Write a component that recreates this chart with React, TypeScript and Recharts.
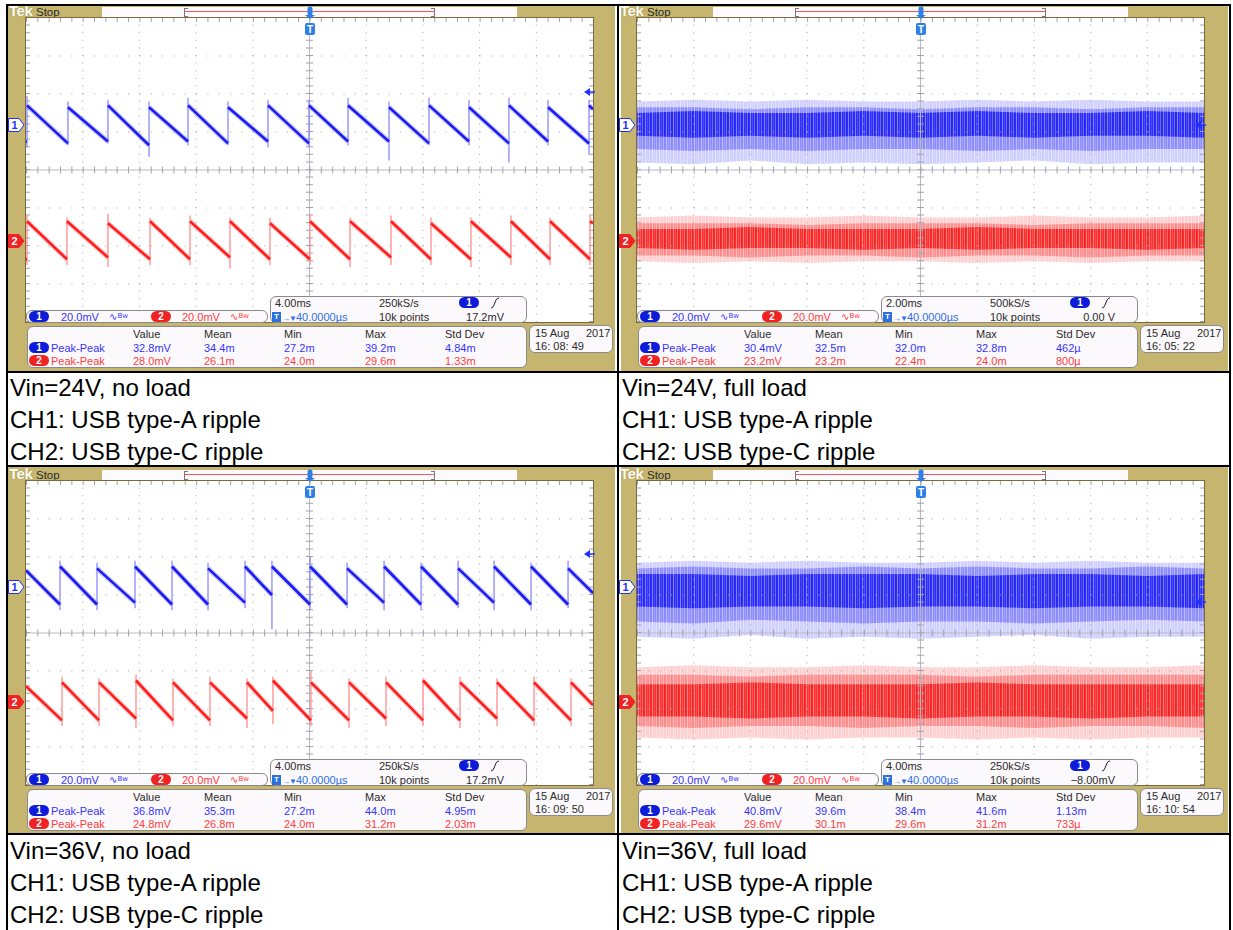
import React from "react";
import { ComposedChart, Line, Area, XAxis, YAxis, ReferenceLine } from "recharts";

// ---------------- captions ----------------
const captionTitles = ["Vin=24V, no load", "Vin=24V, full load", "Vin=36V, no load", "Vin=36V, full load"];
const captionCh1 = "CH1: USB type-A ripple";
const captionCh2 = "CH2: USB type-C ripple";

// ---------------- scope settings / readouts ----------------
const chScaleText = "20.0mV";
const timeDivText = ["4.00ms", "2.00ms", "4.00ms", "4.00ms"];
const timeSpan = [40, 20, 40, 40]; // ms over 10 divisions
const sampleRates = ["250kS/s", "500kS/s", "250kS/s", "250kS/s"];
const recordText = "10k points";
const trigDelayText = "40.0000µs";
const trigLevelText = ["17.2mV", "0.00 V", "17.2mV", "\u22128.00mV"];
const trigLevel = [17.2, 0, 17.2, -8];
const ch1Ground = [23.7, 23.7, 24.2, 24.2];
const ch2Ground = [-37.4, -37.4, -36.3, -36.3];
const statHeads = ["Value", "Mean", "Min", "Max", "Std Dev"];
const measLabel = "Peak-Peak";
const ch1Stats = [
  ["32.8mV", "34.4m", "27.2m", "39.2m", "4.84m"],
  ["30.4mV", "32.5m", "32.0m", "32.8m", "462µ"],
  ["36.8mV", "35.3m", "27.2m", "44.0m", "4.95m"],
  ["40.8mV", "39.6m", "38.4m", "41.6m", "1.13m"],
];
const ch2Stats = [
  ["28.0mV", "26.1m", "24.0m", "29.6m", "1.33m"],
  ["23.2mV", "23.2m", "22.4m", "24.0m", "800µ"],
  ["24.8mV", "26.8m", "24.0m", "31.2m", "2.03m"],
  ["29.6mV", "30.1m", "29.6m", "31.2m", "733µ"],
];
const dateDay = "15 Aug";
const dateYear = "2017";
const clockTimes = ["16: 08: 49", "16: 05: 22", "16: 09: 50", "16: 10: 54"];

// ---------------- waveform data (mV vs ms, screen-centre referenced) ----------------
// Panel A : 24 V no load
const aCh1Jumps = [0.07, 2.96, 5.78, 8.68, 11.43, 14.25, 17.07, 19.96, 22.72, 25.61, 28.43, 31.25, 34.07, 36.83, 39.72];
const aCh1Troughs = [15, 14, 15, 13, 15, 14, 15, 14, 15, 15, 14, 15, 14, 15, 14];
const aCh1Peaks = [34, 33, 34, 33, 34, 33, 34, 34, 34, 33, 34, 33, 34, 33, 34];
const aCh1SpikeHi = [39, 36, 37, 36, 38, 36, 37, 37, 38, 36, 38, 37, 38, 37, 37];
const aCh1SpikeLo = [12, 13, 14, 7, 13, 13, 12, 12, 13, 5, 13, 13, 4, 13, 8];
const aCh1Start = 15;
const aCh1End = 32;

const aCh2Jumps = [0.07, 2.89, 5.78, 8.75, 11.57, 14.39, 17.21, 20.03, 22.86, 25.75, 28.57, 31.39, 34.21, 36.97, 39.79];
const aCh2Troughs = [-47, -47, -46, -47, -47, -46, -47, -47, -47, -46, -47, -47, -46, -47, -47];
const aCh2Peaks = [-27, -27, -28, -27, -27, -27, -28, -27, -27, -27, -28, -27, -27, -27, -27];
const aCh2SpikeHi = [-24, -25, -23, -25, -24, -25, -25, -23, -25, -24, -25, -25, -24, -25, -24];
const aCh2SpikeLo = [-50, -50, -51, -50, -50, -52, -50, -50, -51, -50, -50, -51, -50, -50, -50];
const aCh2Start = -47;
const aCh2End = -28;

// Panel C : 36 V no load
const cCh1Jumps = [2.4, 5.01, 7.69, 10.3, 12.84, 15.45, 17.35, 20.04, 22.65, 25.26, 27.87, 30.48, 33.02, 35.63, 38.24];
const cCh1Troughs = [15, 15, 16, 15, 15, 16, 20, 15, 15, 16, 15, 15, 16, 15, 15];
const cCh1Peaks = [35, 34, 35, 35, 34, 35, 35, 35, 34, 35, 35, 34, 35, 35, 34];
const cCh1SpikeHi = [38, 37, 38, 38, 37, 38, 38, 40, 37, 38, 37, 38, 38, 37, 38];
const cCh1SpikeLo = [12, 12, 13, 12, 12, 13, 2, 12, 13, 12, 12, 13, 12, 12, 13];
const cCh1Start = 33;
const cCh1End = 21;

const cCh2Jumps = [2.54, 5.15, 7.76, 10.37, 12.98, 15.59, 17.42, 20.1, 22.79, 25.4, 28.01, 30.62, 33.23, 35.84, 38.45];
const cCh2Troughs = [-46, -46, -45, -46, -46, -45, -41, -46, -46, -45, -46, -46, -45, -46, -46];
const cCh2Peaks = [-26, -26, -25, -26, -26, -26, -25, -26, -26, -26, -25, -26, -26, -26, -26];
const cCh2SpikeHi = [-23, -24, -22, -24, -23, -24, -23, -20, -24, -23, -24, -23, -24, -23, -24];
const cCh2SpikeLo = [-49, -49, -50, -49, -49, -50, -48, -49, -50, -49, -49, -50, -49, -49, -49];
const cCh2Start = -28;
const cCh2End = -38;

// Panel B : 24 V full load (noise envelopes)
const bTimes = [0, 2, 4, 6, 8, 10, 12, 14, 16, 18, 20];
const bCh1OuterHi = [36, 37, 36, 37, 36, 36, 37, 36, 37, 36, 36];
const bCh1MidHi = [33, 33, 32, 33, 33, 32, 33, 33, 32, 33, 33];
const bCh1CoreHi = [30, 31, 30, 30, 31, 30, 31, 30, 30, 31, 30];
const bCh1CoreLo = [18, 17, 18, 17, 18, 17, 18, 17, 18, 18, 17];
const bCh1MidLo = [11, 10, 11, 10, 11, 11, 10, 11, 10, 11, 11];
const bCh1OuterLo = [4, 3, 5, 3, 4, 3, 4, 5, 3, 4, 4];
const bCh2OuterHi = [-25, -24, -25, -25, -24, -25, -25, -24, -25, -25, -24];
const bCh2MidHi = [-28, -28, -28, -29, -28, -28, -28, -29, -28, -28, -28];
const bCh2CoreHi = [-31, -31, -30, -31, -31, -31, -30, -31, -31, -31, -31];
const bCh2CoreLo = [-41, -42, -41, -41, -42, -41, -42, -41, -41, -42, -41];
const bCh2MidLo = [-45, -45, -46, -45, -45, -46, -45, -45, -46, -45, -45];
const bCh2OuterLo = [-48, -49, -48, -49, -48, -48, -49, -48, -49, -48, -48];

// Panel D : 36 V full load (noise envelopes)
const dTimes = [0, 4, 8, 12, 16, 20, 24, 28, 32, 36, 40];
const dCh1OuterHi = [37, 38, 37, 38, 37, 37, 38, 37, 38, 37, 37];
const dCh1MidHi = [34, 35, 34, 34, 35, 34, 35, 34, 34, 35, 34];
const dCh1CoreHi = [31, 31, 30, 31, 31, 31, 30, 31, 31, 30, 31];
const dCh1CoreLo = [14, 13, 14, 14, 13, 14, 14, 13, 14, 14, 13];
const dCh1MidLo = [6, 5, 7, 6, 5, 6, 6, 5, 6, 7, 6];
const dCh1OuterLo = [-2, -3, -1, -3, -2, -3, -2, -1, -3, -2, -2];
const dCh2OuterHi = [-18, -17, -18, -18, -17, -18, -18, -17, -18, -18, -17];
const dCh2MidHi = [-22, -22, -23, -22, -22, -22, -23, -22, -22, -22, -22];
const dCh2CoreHi = [-27, -27, -26, -27, -27, -27, -26, -27, -27, -27, -27];
const dCh2CoreLo = [-44, -44, -45, -44, -44, -45, -44, -44, -45, -44, -44];
const dCh2MidLo = [-49, -50, -49, -49, -50, -49, -49, -50, -49, -49, -50];
const dCh2OuterLo = [-55, -56, -55, -56, -55, -55, -56, -55, -56, -55, -55];

// ---------------- styling constants ----------------
const PLOT_W = 567;
const PLOT_H = 304;
const TAN = "#c5b56e";
const SCOPE_FONT = '"Liberation Sans", Arial, "DejaVu Sans", sans-serif';
const BLUE_TXT = "#3535ff";
const RED_TXT = "#ff3d3d";
const BLUE_PILL = "#0d1cd8";
const RED_PILL = "#f02222";
const WAVE_BLUE = "#1c1cf2";
const HALO_BLUE = "#8a8aff";
const WAVE_RED = "#ff1e1e";
const HALO_RED = "#ff8c8c";

type Saw = {
  jumps: number[];
  troughs: number[];
  peaks: number[];
  spikeHi: number[];
  spikeLo: number[];
  start: number;
  end: number;
  color: string;
  halo: string;
};
type Band = { times: number[]; lo: number[]; hi: number[]; level: number; color: "b" | "r" };

function sawPoints(s: Saw, xMax: number) {
  const pts: { t: number; v: number | null }[] = [{ t: 0, v: s.start }];
  s.jumps.forEach((j, k) => {
    pts.push({ t: j, v: s.troughs[k] });
    pts.push({ t: j, v: null });
    pts.push({ t: j, v: s.peaks[k] });
  });
  pts.push({ t: xMax, v: s.end });
  return pts;
}
function bandPoints(b: Band) {
  return b.times.map((t, k) => ({ t, r: [b.lo[k], b.hi[k]] }));
}

const SCREENS: { saws: Saw[]; bands: Band[] }[] = [
  {
    saws: [
      { jumps: aCh1Jumps, troughs: aCh1Troughs, peaks: aCh1Peaks, spikeHi: aCh1SpikeHi, spikeLo: aCh1SpikeLo, start: aCh1Start, end: aCh1End, color: WAVE_BLUE, halo: HALO_BLUE },
      { jumps: aCh2Jumps, troughs: aCh2Troughs, peaks: aCh2Peaks, spikeHi: aCh2SpikeHi, spikeLo: aCh2SpikeLo, start: aCh2Start, end: aCh2End, color: WAVE_RED, halo: HALO_RED },
    ],
    bands: [],
  },
  {
    saws: [],
    bands: [
      { times: bTimes, lo: bCh1OuterLo, hi: bCh1OuterHi, level: 0.2, color: "b" },
      { times: bTimes, lo: bCh1MidLo, hi: bCh1MidHi, level: 0.35, color: "b" },
      { times: bTimes, lo: bCh1CoreLo, hi: bCh1CoreHi, level: 0.8, color: "b" },
      { times: bTimes, lo: bCh2OuterLo, hi: bCh2OuterHi, level: 0.2, color: "r" },
      { times: bTimes, lo: bCh2MidLo, hi: bCh2MidHi, level: 0.35, color: "r" },
      { times: bTimes, lo: bCh2CoreLo, hi: bCh2CoreHi, level: 0.8, color: "r" },
    ],
  },
  {
    saws: [
      { jumps: cCh1Jumps, troughs: cCh1Troughs, peaks: cCh1Peaks, spikeHi: cCh1SpikeHi, spikeLo: cCh1SpikeLo, start: cCh1Start, end: cCh1End, color: WAVE_BLUE, halo: HALO_BLUE },
      { jumps: cCh2Jumps, troughs: cCh2Troughs, peaks: cCh2Peaks, spikeHi: cCh2SpikeHi, spikeLo: cCh2SpikeLo, start: cCh2Start, end: cCh2End, color: WAVE_RED, halo: HALO_RED },
    ],
    bands: [],
  },
  {
    saws: [],
    bands: [
      { times: dTimes, lo: dCh1OuterLo, hi: dCh1OuterHi, level: 0.2, color: "b" },
      { times: dTimes, lo: dCh1MidLo, hi: dCh1MidHi, level: 0.35, color: "b" },
      { times: dTimes, lo: dCh1CoreLo, hi: dCh1CoreHi, level: 0.8, color: "b" },
      { times: dTimes, lo: dCh2OuterLo, hi: dCh2OuterHi, level: 0.2, color: "r" },
      { times: dTimes, lo: dCh2MidLo, hi: dCh2MidHi, level: 0.35, color: "r" },
      { times: dTimes, lo: dCh2CoreLo, hi: dCh2CoreHi, level: 0.8, color: "r" },
    ],
  },
];

function ScopeChart({ id, xMax, saws, bands }: { id: string; xMax: number; saws: Saw[]; bands: Band[] }) {
  const gx = [1, 2, 3, 4, 6, 7, 8, 9].map((k) => (k * xMax) / 10);
  const gy = [-60, -40, -20, 20, 40, 60];
  const grid = "#a3a3a3";
  return (
    <ComposedChart width={PLOT_W} height={PLOT_H} margin={{ top: 0, right: 0, bottom: 0, left: 0 }}>
      <defs>
        <pattern id={`${id}-b`} width="7" height="9" patternUnits="userSpaceOnUse">
          <rect width="7" height="9" fill="#1414ff" />
          <rect x="1" width="1" height="9" fill="#ffffff" fillOpacity="0.4" />
          <rect x="3" width="1" height="9" fill="#ffffff" fillOpacity="0.15" />
          <rect x="5" width="1" height="9" fill="#ffffff" fillOpacity="0.3" />
          <rect x="6" width="1" height="9" fill="#0000c0" fillOpacity="0.4" />
        </pattern>
        <pattern id={`${id}-r`} width="7" height="9" patternUnits="userSpaceOnUse">
          <rect width="7" height="9" fill="#ff1414" />
          <rect x="1" width="1" height="9" fill="#ffffff" fillOpacity="0.4" />
          <rect x="3" width="1" height="9" fill="#ffffff" fillOpacity="0.15" />
          <rect x="5" width="1" height="9" fill="#ffffff" fillOpacity="0.3" />
          <rect x="6" width="1" height="9" fill="#c00000" fillOpacity="0.4" />
        </pattern>
      </defs>
      <XAxis type="number" dataKey="t" domain={[0, xMax]} hide allowDataOverflow />
      <YAxis type="number" domain={[-80, 80]} hide allowDataOverflow />
      {gx.map((x) => (
        <ReferenceLine key={`gx${x}`} x={x} stroke={grid} strokeDasharray="1 6.6" />
      ))}
      {gy.map((y) => (
        <ReferenceLine key={`gy${y}`} y={y} stroke={grid} strokeDasharray="1 10.34" />
      ))}
      <ReferenceLine x={xMax / 2} stroke="#b9b9c6" />
      <ReferenceLine x={xMax / 2} stroke="#a2a2ae" strokeWidth={7} strokeDasharray="1 6.6" />
      <ReferenceLine y={0} stroke="#b9b9c6" />
      <ReferenceLine y={0} stroke="#a2a2ae" strokeWidth={7} strokeDasharray="1 10.34" />
      <ReferenceLine x={xMax} stroke="#a2a2ae" strokeWidth={8} strokeDasharray="1 6.6" />
      <ReferenceLine x={0} stroke="#a2a2ae" strokeWidth={8} strokeDasharray="1 6.6" />
      <ReferenceLine y={80} stroke="#a2a2ae" strokeWidth={8} strokeDasharray="1 10.34" />
      {bands.map((b, k) => (
        <Area
          key={`band${k}`}
          data={bandPoints(b)}
          dataKey="r"
          type="linear"
          stroke="none"
          fill={`url(#${id}-${b.color})`}
          fillOpacity={b.level}
          isAnimationActive={false}
          dot={false}
          activeDot={false}
        />
      ))}
      {saws.map((s, k) =>
        s.jumps.map((j, m) => (
          <ReferenceLine
            key={`sp${k}-${m}`}
            segment={[
              { x: j, y: s.spikeLo[m] },
              { x: j, y: s.spikeHi[m] },
            ]}
            stroke={s.halo}
            strokeWidth={1.3}
            ifOverflow="visible"
          />
        ))
      )}
      {saws.map((s, k) => (
        <Line
          key={`halo${k}`}
          data={sawPoints(s, xMax)}
          dataKey="v"
          type="linear"
          stroke={s.halo}
          strokeOpacity={0.45}
          strokeWidth={5}
          dot={false}
          activeDot={false}
          isAnimationActive={false}
        />
      ))}
      {saws.map((s, k) => (
        <Line
          key={`core${k}`}
          data={sawPoints(s, xMax)}
          dataKey="v"
          type="linear"
          stroke={s.color}
          strokeWidth={2.6}
          dot={false}
          activeDot={false}
          isAnimationActive={false}
        />
      ))}
    </ComposedChart>
  );
}

function Txt({ x, y, color = "#2a2a2a", size = 11, children, weight }: any) {
  return (
    <div
      style={{
        position: "absolute",
        left: x,
        top: y - 7,
        height: 14,
        lineHeight: "14px",
        fontSize: size,
        color,
        whiteSpace: "nowrap",
        fontFamily: SCOPE_FONT,
        fontWeight: weight,
      }}
    >
      {children}
    </div>
  );
}

function Pill({ x, y, n, color }: { x: number; y: number; n: string; color: string }) {
  return (
    <div
      style={{
        position: "absolute",
        left: x,
        top: y,
        width: 20,
        height: 11,
        borderRadius: 6,
        background: color,
        color: "#fff",
        fontFamily: SCOPE_FONT,
        fontWeight: "bold",
        fontSize: 10,
        lineHeight: "11px",
        textAlign: "center",
      }}
    >
      {n}
    </div>
  );
}

const boxStyle: React.CSSProperties = {
  position: "absolute",
  background: "#fcf9fc",
  border: "1px solid #8a8a8a",
  borderRadius: 6,
  boxSizing: "border-box",
};

function BwSym({ x, y, color }: { x: number; y: number; color: string }) {
  return (
    <div style={{ position: "absolute", left: x, top: y - 7, height: 14, lineHeight: "14px", color, fontFamily: '"DejaVu Sans", sans-serif', fontSize: 10, whiteSpace: "nowrap" }}>
      ∿<span style={{ fontSize: 7, position: "relative", top: -2 }}>Bw</span>
    </div>
  );
}

function Panel({ i, ox, oy, tanLeft, tanTop }: { i: number; ox: number; oy: number; tanLeft: number; tanTop: number }) {
  const scr = SCREENS[i];
  const xMax = timeSpan[i];
  const yPix = (mv: number) => ((80 - mv) / 160) * PLOT_H;
  const cols = [105, 176, 256, 337, 417];
  const trigY = yPix(ch1Ground[i] + trigLevel[i]);
  return (
    <>
      <div style={{ position: "absolute", left: tanLeft, top: tanTop, width: 607, height: oy + 353 - tanTop, background: TAN }} />
      <div style={{ position: "absolute", left: ox, top: oy, width: 0, height: 0 }}>
        {/* top status bar */}
        <div style={{ position: "absolute", left: -17, top: -15, fontFamily: '"Liberation Sans", Arial, sans-serif', fontWeight: "bold", fontSize: 15, lineHeight: "16px", letterSpacing: -0.5, color: "#fffdf4", textShadow: "0 0 1px #8a7a40" }}>Tek</div>
        <Txt x={10} y={-6} size={11.5}>Stop</Txt>
        <div style={{ position: "absolute", left: 76, top: -11, width: 415, height: 10, background: "#fdfafd" }} />
        <div style={{ position: "absolute", left: 159, top: -7, width: 249, height: 1.2, background: "#f05a5a" }} />
        <div style={{ position: "absolute", left: 158, top: -10, width: 3, height: 7, borderLeft: "1px solid #777", borderTop: "1px solid #777", borderBottom: "1px solid #777" }} />
        <div style={{ position: "absolute", left: 405, top: -10, width: 3, height: 7, borderRight: "1px solid #777", borderTop: "1px solid #777", borderBottom: "1px solid #777" }} />

        {/* plot */}
        <div style={{ position: "absolute", left: -1, top: -1, width: PLOT_W + 2, height: PLOT_H + 2, background: "#7c6a3c" }} />
        <div style={{ position: "absolute", left: 0, top: 0, width: PLOT_W, height: PLOT_H, background: "#ffffff" }}>
          <ScopeChart id={`scr${i}`} xMax={xMax} saws={scr.saws} bands={scr.bands} />
        </div>

        {/* trigger position marker */}
        <svg style={{ position: "absolute", left: PLOT_W / 2 - 7, top: -12, overflow: "visible" }} width={14} height={32}>
          <rect x={4.5} y={0.5} width={5} height={9} rx={2} fill="#2f7fe8" />
          <polygon points="2,9 12,9 7,13" fill="#2f7fe8" />
          <rect x={2} y={17} width={10} height={12} rx={2} fill="#2f7fe8" />
          <text x={7} y={27} textAnchor="middle" fontSize={10} fontWeight="bold" fill="#fff" fontFamily={SCOPE_FONT}>T</text>
        </svg>

        {/* channel ground markers */}
        <svg style={{ position: "absolute", left: -18, top: yPix(ch1Ground[i]) - 7 }} width={17} height={14}>
          <polygon points="0.5,0.5 11,0.5 16,7 11,13.5 0.5,13.5" fill="#fff" stroke="#2030ff" strokeWidth={1} />
          <text x={6.5} y={11} textAnchor="middle" fontSize={11} fontWeight="bold" fill="#2030ff" fontFamily={SCOPE_FONT}>1</text>
        </svg>
        <svg style={{ position: "absolute", left: -18, top: yPix(ch2Ground[i]) - 7 }} width={17} height={14}>
          <polygon points="0.5,0.5 11,0.5 16,7 11,13.5 0.5,13.5" fill="#f02222" stroke="#f02222" strokeWidth={1} />
          <text x={6.5} y={11} textAnchor="middle" fontSize={11} fontWeight="bold" fill="#fff" fontFamily={SCOPE_FONT}>2</text>
        </svg>

        {/* trigger level arrow */}
        <svg style={{ position: "absolute", left: PLOT_W - 9, top: trigY - 5 }} width={12} height={10}>
          <polygon points="0,5 6,1 6,9" fill="#2030ff" />
          <line x1={6} y1={5} x2={11} y2={5} stroke="#2030ff" strokeWidth={1.5} />
        </svg>

        {/* channel bar */}
        <div style={{ ...boxStyle, left: 0, top: 292, width: 242, height: 13 }}>
          <Pill x={2} y={0} n="1" color={BLUE_PILL} />
          <Txt x={34} y={5.5} color={BLUE_TXT}>{chScaleText}</Txt>
          <BwSym x={82} y={5.5} color={BLUE_TXT} />
          <Pill x={124} y={0} n="2" color={RED_PILL} />
          <Txt x={155} y={5.5} color={RED_TXT}>{chScaleText}</Txt>
          <BwSym x={203} y={5.5} color={RED_TXT} />
        </div>

        {/* timebase / trigger box */}
        <div style={{ ...boxStyle, left: 244, top: 278, width: 257, height: 27 }}>
          <Txt x={4} y={6}>{timeDivText[i]}</Txt>
          <Txt x={108} y={6}>{sampleRates[i]}</Txt>
          <Pill x={188} y={0} n="1" color={BLUE_PILL} />
          <svg style={{ position: "absolute", left: 219, top: 0 }} width={10} height={12}>
            <path d="M1,11 Q3,11 4,8 L6,3 Q7,1 9,1" fill="none" stroke="#222" strokeWidth={1} />
          </svg>
          <div style={{ position: "absolute", left: 1, top: 15, width: 9, height: 10, background: "#2a70e0", color: "#fff", fontSize: 8, fontWeight: "bold", lineHeight: "10px", textAlign: "center", fontFamily: SCOPE_FONT }}>T</div>
          <div style={{ position: "absolute", left: 11, top: 13, height: 14, lineHeight: "14px", fontSize: 11, color: "#2f6fe6", fontFamily: SCOPE_FONT, whiteSpace: "nowrap" }}>
            <span style={{ fontSize: 8, letterSpacing: -1 }}>{"\u2192\u25BC"}</span>
            {trigDelayText}
          </div>
          <Txt x={108} y={20}>{recordText}</Txt>
          <div style={{ position: "absolute", left: 133, top: 13, width: 100, height: 14, lineHeight: "14px", textAlign: "right", fontSize: 11, color: "#2a2a2a", fontFamily: SCOPE_FONT, whiteSpace: "nowrap" }}>{trigLevelText[i]}</div>
        </div>

        {/* measurement box */}
        <div style={{ ...boxStyle, left: 1, top: 308, width: 500, height: 42 }}>
          {statHeads.map((h, k) => (
            <Txt key={h} x={cols[k]} y={7}>{h}</Txt>
          ))}
          <Pill x={1} y={15} n="1" color={BLUE_PILL} />
          <Txt x={23} y={20.5} color={BLUE_TXT}>{measLabel}</Txt>
          {ch1Stats[i].map((v, k) => (
            <Txt key={`c1${k}`} x={cols[k]} y={20.5} color={BLUE_TXT}>{v}</Txt>
          ))}
          <Pill x={1} y={28} n="2" color={RED_PILL} />
          <Txt x={23} y={33.5} color={RED_TXT}>{measLabel}</Txt>
          {ch2Stats[i].map((v, k) => (
            <Txt key={`c2${k}`} x={cols[k]} y={33.5} color={RED_TXT}>{v}</Txt>
          ))}
        </div>

        {/* date box */}
        <div style={{ ...boxStyle, left: 503, top: 307, width: 84, height: 28 }}>
          <Txt x={5} y={7}>{dateDay}</Txt>
          <Txt x={56} y={7}>{dateYear}</Txt>
          <Txt x={5} y={20}>{clockTimes[i]}</Txt>
        </div>
      </div>
    </>
  );
}

function Caption({ x, y, title }: { x: number; y: number; title: string }) {
  return (
    <div style={{ position: "absolute", left: x, top: y, fontFamily: '"Liberation Sans", Arial, sans-serif', fontSize: 24, lineHeight: "32px", color: "#000", whiteSpace: "nowrap" }}>
      <div>{title}</div>
      <div>{captionCh1}</div>
      <div>{captionCh2}</div>
    </div>
  );
}

export default function App() {
  const black = "#000";
  return (
    <div style={{ position: "absolute", left: 0, top: 0, width: 1233, height: 930, background: "#fff", overflow: "hidden" }}>
      <Panel i={0} ox={26} oy={18} tanLeft={8} tanTop={6} />
      <Panel i={1} ox={637} oy={18} tanLeft={621} tanTop={6} />
      <Panel i={2} ox={26} oy={481} tanLeft={8} tanTop={467} />
      <Panel i={3} ox={637} oy={481} tanLeft={621} tanTop={467} />

      <Caption x={10} y={372} title={captionTitles[0]} />
      <Caption x={622} y={372} title={captionTitles[1]} />
      <Caption x={10} y={835} title={captionTitles[2]} />
      <Caption x={622} y={835} title={captionTitles[3]} />

      {/* table lines */}
      <div style={{ position: "absolute", left: 6, top: 4, width: 1225, height: 2, background: black }} />
      <div style={{ position: "absolute", left: 6, top: 371, width: 1225, height: 2, background: black }} />
      <div style={{ position: "absolute", left: 6, top: 465, width: 1225, height: 2, background: black }} />
      <div style={{ position: "absolute", left: 6, top: 833, width: 1225, height: 2, background: black }} />
      <div style={{ position: "absolute", left: 6, top: 4, width: 2, height: 926, background: black }} />
      <div style={{ position: "absolute", left: 617, top: 4, width: 2, height: 926, background: black }} />
      <div style={{ position: "absolute", left: 1229, top: 4, width: 2, height: 926, background: black }} />
    </div>
  );
}
